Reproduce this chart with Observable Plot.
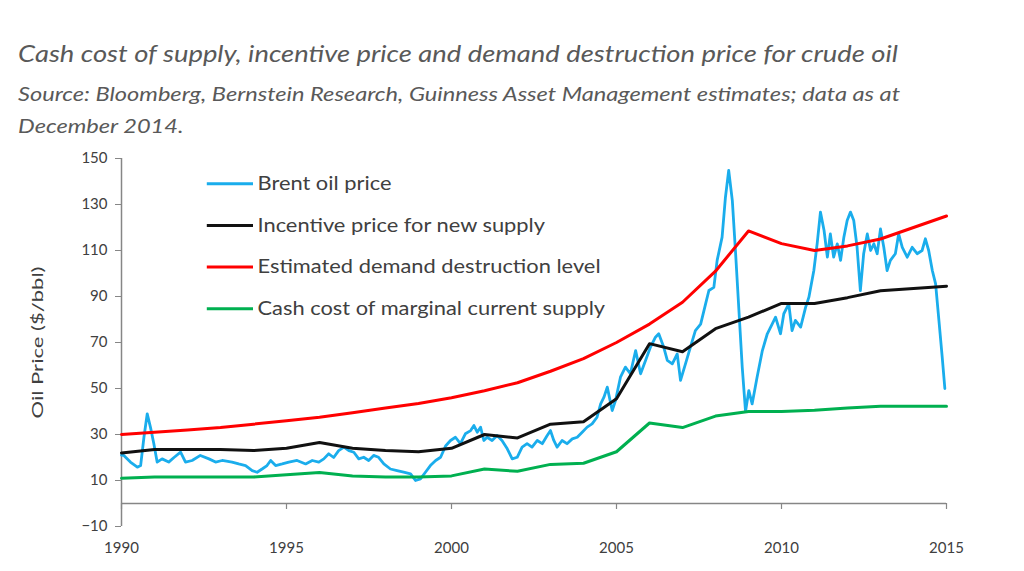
<!DOCTYPE html>
<html><head><meta charset="utf-8">
<script src="https://cdn.jsdelivr.net/npm/d3@7"></script>
<script src="https://cdn.jsdelivr.net/npm/@observablehq/plot@0.6"></script>
<style>
body{margin:0;background:#fff;width:1024px;height:571px;overflow:hidden;position:relative;font-family:Lato,"Open Sans",sans-serif;}
#head{position:absolute;left:0;top:0;}
#chart{position:absolute;left:0;top:140px;}
</style></head>
<body>
<svg id="head" width="1024" height="140">
  <text id="t1" x="18" y="62" font-size="24" font-style="italic" fill="#595959" font-family="Lato, sans-serif">Cash cost of supply, incentive price and demand destruction price for crude oil</text>
  <text id="t2" x="18" y="101" font-size="19.5" font-style="italic" fill="#595959" font-family="Lato, sans-serif">Source: Bloomberg, Bernstein Research, Guinness Asset Management estimates; data as at</text>
  <text id="t3" x="18" y="133" font-size="19.5" font-style="italic" fill="#595959" font-family="Lato, sans-serif">December 2014.</text>
</svg>
<div id="chart"></div>
<script>
// ---- data ----
const years = d3.range(1990, 2016);
const incentive = [22,23.5,23.5,23.5,23,24,26.5,24,23,22.5,24,30,28.5,34.5,35.5,45.5,69.5,66,76,81,87,87,89.5,92.5,93.5,94.5];
const demandDestruction = [30,31,32,33,34.5,36,37.5,39.5,41.5,43.5,46,49,52.5,57.5,63,70,78,87.5,101,118.5,113,110,112,115,120,125];
const cashCost = [11,11.5,11.5,11.5,11.5,12.5,13.5,12,11.5,11.5,12,15,14,17,17.5,22.5,35,33,38,40,40,40.5,41.5,42.3,42.3,42.3];

const brentDate = [1990.0,1990.07,1990.27,1990.48,1990.58,1990.68,1990.78,1990.88,1990.98,1991.08,1991.23,1991.43,1991.59,1991.79,1991.94,1992.14,1992.39,1992.65,1992.85,1993.05,1993.35,1993.55,1993.76,1993.96,1994.11,1994.26,1994.41,1994.52,1994.67,1994.87,1995.07,1995.32,1995.58,1995.78,1995.98,1996.13,1996.28,1996.43,1996.58,1996.74,1996.89,1997.04,1997.19,1997.34,1997.49,1997.64,1997.79,1997.95,1998.15,1998.35,1998.55,1998.76,1998.91,1999.06,1999.21,1999.36,1999.52,1999.67,1999.82,1999.97,2000.12,2000.27,2000.42,2000.58,2000.68,2000.78,2000.88,2000.98,2001.08,2001.23,2001.38,2001.53,2001.69,2001.84,2001.99,2002.14,2002.29,2002.44,2002.6,2002.75,2002.9,2003.0,2003.1,2003.2,2003.35,2003.5,2003.66,2003.81,2003.96,2004.11,2004.26,2004.41,2004.52,2004.62,2004.72,2004.87,2004.97,2005.12,2005.27,2005.42,2005.58,2005.73,2005.88,2006.03,2006.18,2006.28,2006.43,2006.54,2006.69,2006.84,2006.94,2007.09,2007.24,2007.39,2007.55,2007.7,2007.8,2007.95,2008.05,2008.2,2008.3,2008.4,2008.51,2008.61,2008.71,2008.81,2008.91,2009.01,2009.11,2009.26,2009.42,2009.57,2009.72,2009.82,2009.97,2010.07,2010.22,2010.32,2010.42,2010.58,2010.73,2010.83,2010.98,2011.08,2011.18,2011.29,2011.39,2011.48,2011.58,2011.69,2011.79,2011.89,2011.99,2012.09,2012.19,2012.29,2012.39,2012.49,2012.6,2012.7,2012.8,2012.9,2013.0,2013.1,2013.2,2013.3,2013.45,2013.55,2013.66,2013.81,2013.96,2014.11,2014.26,2014.36,2014.46,2014.57,2014.67,2014.77,2014.87,2014.95];
const brentPrice = [21,20.9,18,15.8,16.5,28.8,39,33,26,18,19.4,18,20,22.3,18,18.7,20.9,19.4,18,18.7,18,17.2,16.5,14.3,13.6,15,16.5,18.7,16.5,17.2,18,18.7,17.2,18.7,18,19.4,21.6,20,23,24.5,23,22.3,19.4,20.1,18.7,20.9,20.1,17.2,15,14.3,13.6,12.9,10,10.7,13.6,16.5,18.7,20.1,25,27.4,28.8,26,30.3,31.7,33.9,31,33.2,27.4,28.8,27.4,29.6,27.4,23.8,19.4,20.1,24.5,26,24.5,27.4,26,29.6,31.7,27.4,24.5,27.4,26,28.1,28.8,31,33.2,34.6,37.5,43.3,46.2,50.6,40.4,44.8,54.9,59.3,56.4,66.5,56.4,62.2,68,72.3,73.8,68,62.2,60.7,65,53.5,60.7,68,75.2,78,86.8,92.6,94,105.7,115.8,133,144.8,131.7,108.6,83.9,59.3,40,49.1,43.3,54.9,66.5,73.8,78.1,81,73.8,82.5,86.8,75.2,79.6,76.7,85.3,89.7,101.3,112.9,126.7,118.7,107.1,117.2,107.1,112.9,105.7,115.8,123,126.7,123,111.4,92.6,108.6,117.2,110,112.9,108.6,119.4,111.4,101.3,105.7,108.6,117.2,111.4,107.1,111.4,108.6,110,115.1,110,101.3,95.5,79.6,63.6,50];

const xTicks = [1990,1995,2000,2005,2010,2015];
const yTicks = [-10,10,30,50,70,90,110,130,150];

const seriesNames = ["Brent oil price","Incentive price for new supply","Estimated demand destruction level","Cash cost of marginal current supply"];
const seriesColors = ["#1AADEC","#111111","#FF0000","#00B050"];
const yLabel = "Oil Price ($/bbl)";

// ---- tables ----
const brent = brentDate.map((d,i)=>({x:d, y:brentPrice[i]}));
const mk = vals => years.map((yr,i)=>({x:yr, y:vals[i]}));
const legend = seriesNames.map((n,i)=>({name:n, color:seriesColors[i], y:139 - i*18.1}));

const chart = Plot.plot({
  width: 1024, height: 431,
  marginLeft: 121, marginRight: 78, marginTop: 18, marginBottom: 45,
  style: {fontFamily: "Lato, sans-serif", background: "white", overflow: "visible"},
  x: {domain: [1990, 2015]},
  y: {domain: [-10, 150]},
  marks: [
    Plot.axisY({ticks: yTicks, tickSize: 6, tickPadding: 8, stroke: "#868686", fill: "#404040", fontSize: 15, label: null}),
    Plot.ruleX([1990], {y1: -10, y2: 150, stroke: "#868686", strokeWidth: 1.5}),
    Plot.ruleY([0], {x1: 1990, x2: 2015, stroke: "#868686", strokeWidth: 1.5}),
    Plot.ruleX(xTicks, {y1: 0, y2: -2.6, stroke: "#868686", strokeWidth: 1.2}),
    Plot.axisX({ticks: xTicks, tickSize: 0, tickPadding: 16, tickFormat: "d", fill: "#404040", fontSize: 15, label: null}),
    Plot.text([yLabel], {frameAnchor: "left", dx: -83, rotate: -90, textAnchor: "middle", lineAnchor: "middle", fontSize: 15, fill: "#404040"}),
    Plot.line(brent, {x: "x", y: "y", stroke: seriesColors[0], strokeWidth: 2.8}),
    Plot.line(mk(cashCost), {x: "x", y: "y", stroke: seriesColors[3], strokeWidth: 3}),
    Plot.line(mk(incentive), {x: "x", y: "y", stroke: seriesColors[1], strokeWidth: 3}),
    Plot.line(mk(demandDestruction), {x: "x", y: "y", stroke: seriesColors[2], strokeWidth: 3}),
    Plot.ruleY(legend, {y: "y", x1: 1992.6, x2: 1994.0, stroke: "color", strokeWidth: 3}),
    Plot.text(legend, {x: 1994.0, y: "y", text: "name", dx: 4, textAnchor: "start", fontSize: 19.5, fill: "#404040"})
  ]
});
document.getElementById("chart").appendChild(chart);

// horizontal stretch of glyphs to mimic the reference's wide rendering
function stretchTo(el, len){ el.setAttribute("textLength", len); el.setAttribute("lengthAdjust", "spacingAndGlyphs"); }
const t1 = document.getElementById("t1"), t2 = document.getElementById("t2"), t3 = document.getElementById("t3");
stretchTo(t1, 880);
const f2 = 882 / t2.getComputedTextLength();
stretchTo(t2, 882);
stretchTo(t3, t3.getComputedTextLength() * f2);
d3.select(chart).selectAll("text").each(function(){
  const s = this.textContent;
  if (seriesNames.includes(s)) stretchTo(this, this.getComputedTextLength() * 1.12);
  else if (s === yLabel) stretchTo(this, 152);
});
</script>
</body></html>
